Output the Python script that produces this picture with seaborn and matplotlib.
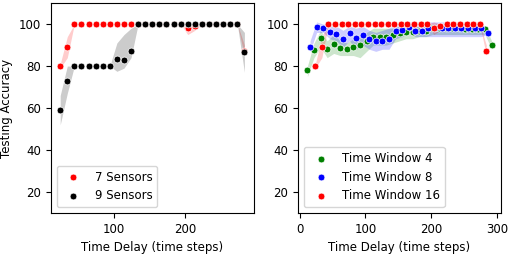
import numpy as np
import pandas as pd
import matplotlib
matplotlib.use('Agg')
import matplotlib.pyplot as plt
import seaborn as sns

# left panel: number of sensors (window 16)
x_sens = list(range(24, 285, 10))
acc_7 = [80, 89, 100, 100, 100, 100, 100, 100, 100, 100, 100, 100, 100, 100,
         100, 100, 100, 100, 98, 99, 100, 100, 100, 100, 100, 100, 87]
lo_7 = [79, 84, 100, 100, 100, 100, 100, 100, 100, 100, 100, 100, 100, 100,
        100, 100, 100, 100, 95, 97, 100, 100, 100, 100, 100, 100, 85]
hi_7 = [81, 94, 100, 100, 100, 100, 100, 100, 100, 100, 100, 100, 100, 100,
        100, 100, 100, 100, 101, 100, 100, 100, 100, 100, 100, 100, 90]
acc_9 = [59, 73, 80, 80, 80, 80, 80, 80, 83.5, 83, 87, 100, 100, 100,
         100, 100, 100, 100, 100, 100, 100, 100, 100, 100, 100, 100, 86.5]
lo_9 = [52, 67, 80, 80, 80, 80, 80, 80, 77.5, 79, 84, 100, 100, 100,
        100, 100, 100, 100, 100, 100, 100, 100, 100, 100, 100, 100, 77]
hi_9 = [66, 80, 80, 80, 80, 80, 80, 80, 91, 95, 98, 100, 100, 100,
        100, 100, 100, 100, 100, 100, 100, 100, 100, 100, 100, 100, 96]

# right panel: time window size
x_w4 = list(range(12, 293, 10))
acc_w4 = [78, 87.7, 93.2, 88, 90.4, 88.5, 88, 89.3, 89.8, 92, 94, 94, 94, 94.8,
          95.6, 96, 96, 96.7, 96.7, 98, 98, 98, 98, 98, 97.5, 97.5, 97.5, 97.5, 90]
lo_w4 = [75, 84, 89, 84, 86, 85, 85, 85, 84, 87, 90, 90, 90, 91,
         92, 93, 93, 94, 94, 95, 95, 95, 95, 95, 95, 95, 95, 95, 88]
hi_w4 = [80, 91, 97, 92, 95, 92, 91, 93, 95, 96, 98, 98, 98, 98,
         99, 99, 99, 99, 99, 100, 100, 100, 100, 100, 100, 100, 100, 99, 92]

x_w8 = list(range(16, 287, 10))
acc_w8 = [89.3, 98.7, 98, 96, 95.3, 92.8, 95.6, 93.2, 94.8, 92.8, 92, 92, 92.8, 96.7,
          97.2, 98.7, 96.7, 96.7, 98, 98, 98, 98, 98, 98, 98, 98, 98, 95.9]
lo_w8 = [87, 96, 96, 93, 92, 89, 92, 88, 90, 88, 87, 88, 88, 93,
         94, 96, 94, 94, 94, 94, 94, 94, 94, 94, 94, 94, 94, 95]
hi_w8 = [92, 101, 100, 100, 99, 97, 99, 98, 99, 97, 96, 97, 98, 100,
         101, 101, 101, 101, 101, 101, 101, 101, 101, 101, 101, 101, 101, 97]

x_w16 = x_sens
acc_w16 = acc_7
lo_w16 = lo_7
hi_w16 = hi_7

plt.rcParams['font.size'] = 8.5
fig, (ax1, ax2) = plt.subplots(1, 2, figsize=(5.1, 2.54), dpi=100)


def draw(ax, x, y, lo, hi, color, label):
    ax.fill_between(x, lo, hi, color=color, alpha=0.2, linewidth=0)
    sns.scatterplot(x=x, y=y, color=color, label=label, s=24,
                    edgecolor='white', linewidth=0.5, ax=ax, zorder=3)


draw(ax1, x_sens, acc_7, lo_7, hi_7, 'red', '7 Sensors')
draw(ax1, x_sens, acc_9, lo_9, hi_9, 'black', '9 Sensors')

draw(ax2, x_w4, acc_w4, lo_w4, hi_w4, 'green', 'Time Window 4')
draw(ax2, x_w8, acc_w8, lo_w8, hi_w8, 'blue', 'Time Window 8')
draw(ax2, x_w16, acc_w16, lo_w16, hi_w16, 'red', 'Time Window 16')

for ax in (ax1, ax2):
    ax.set_ylim(10, 110)
    ax.set_yticks([20, 40, 60, 80, 100])
    ax.set_xlabel('Time Delay (time steps)')
    ax.legend(loc='lower left')

ax1.set_ylabel('Testing Accuracy')
ax1.set_xticks([100, 200])
ax2.set_xticks([0, 100, 200, 300])

plt.subplots_adjust(left=0.1, right=0.982, top=0.988, bottom=0.161, wspace=0.22)
plt.savefig('out.png', dpi=100)
